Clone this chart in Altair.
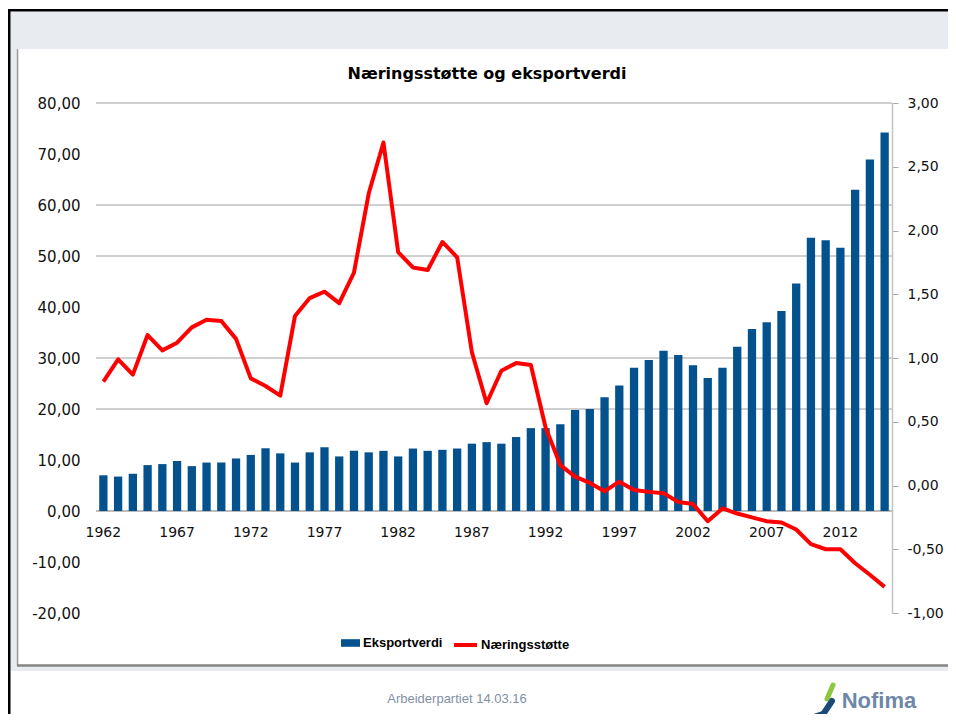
import altair as alt
import pandas as pd

# ---------------- data ----------------
years = list(range(1962, 2016))
eksportverdi = [7.0, 6.75, 7.3, 9.0, 9.2, 9.8, 8.8, 9.5, 9.5, 10.3,
                11.0, 12.3, 11.3, 9.5, 11.5, 12.5, 10.7, 11.8, 11.5, 11.8,
                10.7, 12.25, 11.8, 12.0, 12.25, 13.2, 13.5, 13.2, 14.5, 16.25,
                16.25, 17.0, 19.8, 20.0, 22.3, 24.6, 28.1, 29.6, 31.4, 30.6,
                28.6, 26.1, 28.1, 32.2, 35.7, 37.0, 39.2, 44.6, 53.6, 53.1,
                51.6, 63.0, 68.9, 74.2]
naeringsstotte = [0.815, 0.99, 0.87, 1.18, 1.06, 1.12, 1.24, 1.30, 1.29, 1.15,
                  0.84, 0.78, 0.705, 1.33, 1.47, 1.52, 1.43, 1.67, 2.29, 2.69,
                  1.83, 1.71, 1.69, 1.91, 1.79, 1.045, 0.645, 0.90, 0.96, 0.945,
                  0.455, 0.16, 0.07, 0.02, -0.045, 0.03, -0.035, -0.05, -0.06, -0.13,
                  -0.145, -0.28, -0.18, -0.22, -0.25, -0.28, -0.29, -0.345, -0.46, -0.50,
                  -0.50, -0.61, -0.70, -0.795]
year_labels = [1962, 1967, 1972, 1977, 1982, 1987, 1992, 1997, 2002, 2007, 2012]
left_ticks = [-20, -10, 0, 10, 20, 30, 40, 50, 60, 70, 80]
right_ticks = [-1.0, -0.5, 0.0, 0.5, 1.0, 1.5, 2.0, 2.5, 3.0]
grid_values = [80, 60, 50, 30, 20]
series_names = ["Eksportverdi", "Næringsstøtte"]
title_text = "Næringsstøtte og eksportverdi"
footer_text = "Arbeiderpartiet 14.03.16"
logo_text = "Nofima"

df = pd.DataFrame({"year": years, "eksport": eksportverdi, "stotte": naeringsstotte})
df["s_bar"] = series_names[0]
df["s_line"] = series_names[1]

# ---------------- layout helpers ----------------
W, H = 796, 510
OX, OY = 96, 103          # page position of the plot area
PADL, PADT = OX - 8, OY - 8
TOTAL_W, TOTAL_H = 940, 706
RIGHT = 8 + TOTAL_W       # page x of the svg's right edge
BOTTOM = 8 + TOTAL_H
one = pd.DataFrame({"k": [0]})


def px(X):
    return X - OX


def py(Y):
    return Y - OY


def rect(x1, y1, x2, y2, color):
    return alt.Chart(one).mark_rect(color=color).encode(
        x=alt.value(px(x1)), x2=alt.value(px(x2)),
        y=alt.value(py(y1)), y2=alt.value(py(y2)))


def seg(x1, y1, x2, y2, color, w, cap="butt"):
    return alt.Chart(one).mark_rule(color=color, strokeWidth=w, strokeCap=cap).encode(
        x=alt.value(px(x1)), x2=alt.value(px(x2)),
        y=alt.value(py(y1)), y2=alt.value(py(y2)))


def text(X, Y, s, **kw):
    return alt.Chart(one).mark_text(text=s, **kw).encode(
        x=alt.value(px(X)), y=alt.value(py(Y)))


comma = "replace(replace(format(datum.value, '.2f'), '.', ','), '\u2212', '-')"

# ---------------- slide frame ----------------
frame = [
    rect(10.5, 11.5, RIGHT, 671, "#e8ecf0"),
    rect(17, 49, RIGHT, 665, "#ffffff"),
    rect(8, 9, 10.5, BOTTOM, "#000000"),
    rect(8, 9, RIGHT, 11.5, "#000000"),
    rect(16.8, 49, 18.3, 666, "#9a9a9a"),
    rect(17, 664.3, RIGHT, 666.8, "#858585"),
    text(487, 74, title_text, font="DejaVu Sans", fontSize=16, fontWeight="bold",
         color="#000000", align="center", baseline="middle"),
    text(457, 699, footer_text, font="Liberation Sans", fontSize=13,
         color="#8190a5", align="center", baseline="middle"),
    text(879, 701, logo_text, font="Liberation Sans", fontSize=22, fontWeight="bold",
         color="#6d87a6", align="center", baseline="middle"),
    seg(827, 699, 833, 685, "#8dc63f", 5, "round"),
    seg(832, 701, 824, 713, "#1b4a7a", 6, "round"),
    seg(824, 713, 815, 716, "#1b4a7a", 5, "round"),
]

# ---------------- chart ----------------
xenc = alt.X("year:O", title=None,
             scale=alt.Scale(paddingInner=0.44, paddingOuter=0.22),
             axis=alt.Axis(values=year_labels, labelAngle=0, domain=False, ticks=False,
                           offset=-103, labelPadding=15, labelFontSize=14,
                           labelFont="DejaVu Sans", labelColor="#111111", grid=False,
                           zindex=2))

yleft_scale = alt.Scale(domain=[-20, 80], nice=False, zero=False)
yleft_axis = alt.Axis(values=left_ticks, labelExpr=comma, grid=False, domain=False,
                      ticks=False, labelPadding=16, labelFontSize=15,
                      labelFont="DejaVu Sans", labelColor="#111111", zindex=2)

grid = alt.Chart(pd.DataFrame({"g": grid_values})).mark_rule(
    color="#a0a0a0", strokeWidth=1).encode(
    y=alt.Y("g:Q", scale=yleft_scale, axis=yleft_axis, title=None))

zero_line = alt.Chart(one).mark_rule(color="#a6a6a6", strokeWidth=1.5).encode(
    y=alt.datum(0, scale=yleft_scale, axis=yleft_axis, title=None))

bars = alt.Chart(df).mark_bar(size=8.3).encode(
    x=xenc,
    y=alt.Y("eksport:Q", scale=yleft_scale, title=None, axis=yleft_axis),
    fill=alt.Fill("s_bar:N", scale=alt.Scale(domain=[series_names[0]], range=["#04528d"]),
                  legend=alt.Legend(orient="none", legendX=px(341), legendY=py(633.5),
                                    title=None, symbolType="M-1,-0.4H1V0.4H-1Z",
                                    symbolSize=361, symbolStrokeWidth=0, labelOffset=3,
                                    padding=0, labelFont="Liberation Sans",
                                    labelFontSize=13, labelFontWeight="bold",
                                    labelColor="#000000")),
)

line = alt.Chart(df).mark_line(strokeWidth=4, strokeJoin="round").encode(
    x=alt.X("year:O"),
    y=alt.Y("stotte:Q", title=None,
            scale=alt.Scale(domain=[-1, 3], nice=False, zero=False),
            axis=alt.Axis(orient="right", values=right_ticks, labelExpr=comma, grid=False,
                          domain=True, domainColor="#c4c4c4", domainWidth=1.5,
                          ticks=True, tickColor="#a8a8a8", tickSize=6, labelPadding=9,
                          labelFontSize=14, labelFont="DejaVu Sans",
                          labelColor="#111111", zindex=2)),
    stroke=alt.Stroke("s_line:N", scale=alt.Scale(domain=[series_names[1]], range=["#ff0000"]),
                      legend=alt.Legend(orient="none", legendX=px(452), legendY=py(631.5),
                                        title=None, symbolType="stroke", symbolSize=529,
                                        symbolStrokeWidth=4, labelOffset=2, padding=0,
                                        labelFont="Liberation Sans", labelFontSize=13,
                                        labelFontWeight="bold", labelColor="#000000")),
)

plot = alt.layer(alt.layer(grid, zero_line, bars), line).resolve_scale(
    y="independent", fill="independent", stroke="independent")

chart = alt.layer(*frame, plot).properties(
    width=W, height=H,
    padding={"left": PADL, "top": PADT, "right": TOTAL_W - PADL - W,
             "bottom": TOTAL_H - PADT - H},
    autosize=alt.AutoSizeParams(type="none"),
    background="#ffffff",
).configure_view(strokeWidth=0)

chart.save("out.html", embed_options={"renderer": "svg", "actions": False})
